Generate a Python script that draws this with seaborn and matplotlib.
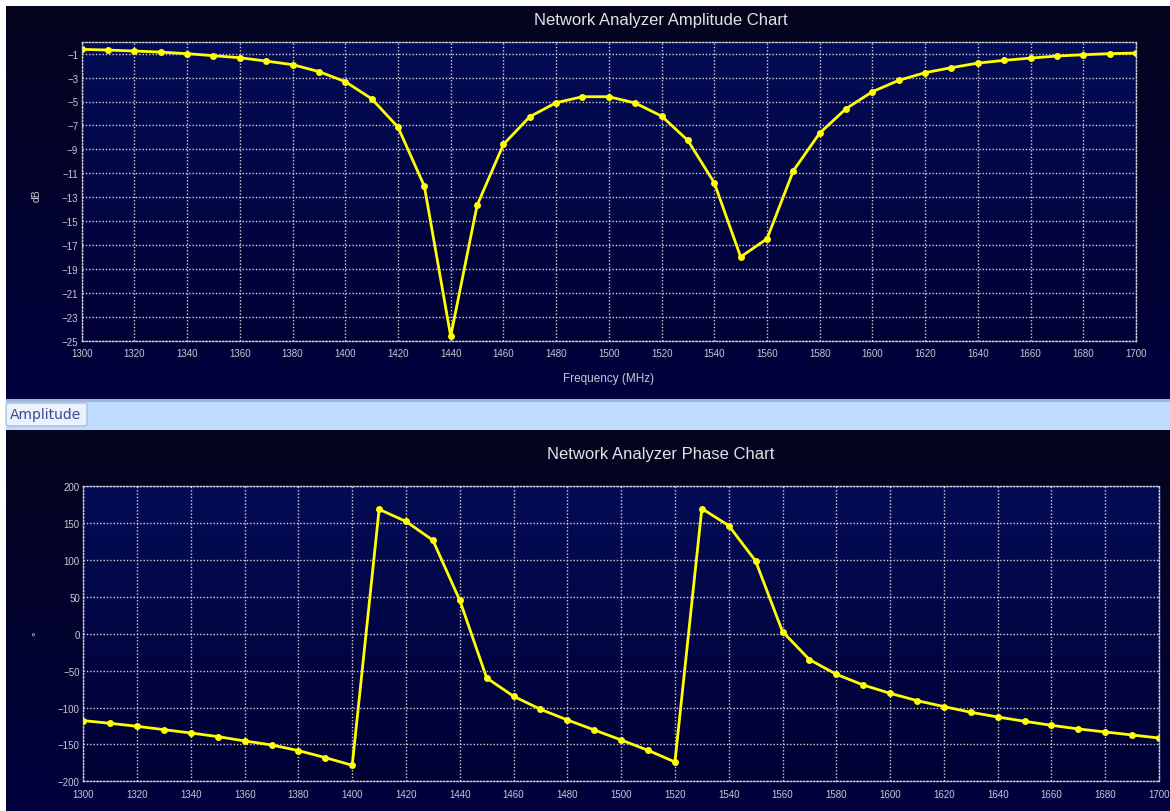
import numpy as np
import pandas as pd
import matplotlib
matplotlib.use("Agg")
import matplotlib.pyplot as plt
from matplotlib.colors import LinearSegmentedColormap
from matplotlib.patches import Rectangle, FancyBboxPatch
import seaborn as sns

# Sweep frequencies (MHz)
freq_mhz = [1300, 1310, 1320, 1330, 1340, 1350, 1360, 1370, 1380, 1390,
            1400, 1410, 1420, 1430, 1440, 1450, 1460, 1470, 1480, 1490,
            1500, 1510, 1520, 1530, 1540, 1550, 1560, 1570, 1580, 1590,
            1600, 1610, 1620, 1630, 1640, 1650, 1660, 1670, 1680, 1690,
            1700]

# Measured amplitude (dB)
amplitude_db = [-0.64, -0.70, -0.78, -0.87, -1.00, -1.17, -1.34, -1.62, -1.92, -2.50,
                -3.34, -4.77, -7.14, -12.08, -24.63, -13.69, -8.59, -6.27, -5.10, -4.60,
                -4.60, -5.13, -6.22, -8.26, -11.80, -17.99, -16.48, -10.79, -7.64, -5.60,
                -4.18, -3.23, -2.59, -2.17, -1.79, -1.56, -1.37, -1.20, -1.09, -1.00,
                -0.95]

# Measured phase (degrees)
phase_deg = [-117.7, -121.4, -125.4, -130.0, -134.5, -139.4, -145.3, -150.7, -158.4, -167.9,
             -178.3, 168.8, 152.3, 126.8, 45.4, -59.9, -84.7, -102.4, -116.8, -130.4,
             -144.0, -158.0, -173.8, 169.8, 146.7, 98.7, 3.0, -35.0, -54.9, -69.4,
             -80.7, -90.6, -98.7, -106.4, -112.8, -118.6, -124.1, -129.0, -133.1, -137.2,
             -141.3]

x_ticks = list(range(1300, 1701, 20))
amp_ticks = list(range(-25, 0, 2))
phase_ticks = list(range(-200, 201, 50))

amp_title = "Network Analyzer Amplitude Chart"
phase_title = "Network Analyzer Phase Chart"
x_label = "Frequency (MHz)"
amp_label = "dB"
phase_label = "°"
tab_label = "Amplitude"

df = pd.DataFrame({"freq": freq_mhz, "amp": amplitude_db, "phase": phase_deg})

sns.set_theme(style="dark")
plt.rcParams["font.family"] = ["Liberation Sans", "DejaVu Sans"]

W, H = 1170, 812
fig = plt.figure(figsize=(W / 100, H / 100), dpi=100, facecolor="white")


def rect(x0, y0, x1, y1):
    """Pixel box (top-left origin) to figure fraction [l, b, w, h]."""
    return [x0 / W, 1 - y1 / H, (x1 - x0) / W, (y1 - y0) / H]


panel_cmap = LinearSegmentedColormap.from_list("panel", ["#05051e", "#00003e"])
plot_cmap = LinearSegmentedColormap.from_list("plotbg", ["#040c56", "#000034"])
grad = np.linspace(0, 1, 256).reshape(-1, 1)


def panel(box):
    bg = fig.add_axes(rect(*box), zorder=0)
    bg.imshow(grad, cmap=panel_cmap, aspect="auto", extent=[0, 1, 1, 0])
    bg.set_axis_off()


panel((6, 7, 1170, 400))
panel((6, 431, 1170, 812))

# Tab strip between the two charts
fig.patches.append(Rectangle((6 / W, 1 - 431 / H), (W - 6) / W, 31 / H,
                             transform=fig.transFigure, facecolor="#bfdcff",
                             edgecolor="none", zorder=1))
fig.patches.append(Rectangle((6 / W, 1 - 402.5 / H), (W - 6) / W, 2.5 / H,
                             transform=fig.transFigure, facecolor="#9fb6d6",
                             edgecolor="none", zorder=1))
fig.patches.append(FancyBboxPatch((6 / W, 1 - 427 / H), 81 / W, 23 / H,
                                  boxstyle="round,pad=0,rounding_size=0.003",
                                  transform=fig.transFigure, facecolor="#e9f2fd",
                                  edgecolor="#a9bfdc", linewidth=1, zorder=2))
fig.text(10 / W, 1 - 415.5 / H, tab_label, ha="left", va="center",
         fontsize=10, color="#3b4a8c", family=["DejaVu Sans"], zorder=3)

grid_color = "#d2d2d8"
dot = (0, (1, 1.4))


def style_axes(ax, yticks, ylim):
    ax.imshow(grad, cmap=plot_cmap, aspect="auto",
              extent=[1300, 1700, ylim[0], ylim[1]], zorder=0)
    ax.set_xlim(1300, 1700)
    ax.set_ylim(*ylim)
    ax.set_xticks(x_ticks)
    ax.set_yticks(yticks)
    ax.set_axisbelow(True)
    ax.grid(True, color=grid_color, linestyle=dot, linewidth=1.0)
    for s in ax.spines.values():
        s.set_visible(True)
        s.set_color(grid_color)
        s.set_linestyle(dot)
        s.set_linewidth(1.0)
    ax.tick_params(length=0, labelsize=7, colors="#c8c8d2")
    ax.tick_params(axis="x", pad=5.5)
    ax.tick_params(axis="y", pad=2.5)
    ax.set_xlabel("")
    ax.set_ylabel("")
    ax.patch.set_alpha(0)


line_kw = dict(color="#ffff00", linewidth=2.0, marker="o", markersize=5,
               markeredgewidth=0, markerfacecolor="#ffff00")

ax1 = fig.add_axes(rect(81.7, 42.7, 1136, 341.7), zorder=2)
sns.lineplot(data=df, x="freq", y="amp", ax=ax1, **line_kw)
style_axes(ax1, amp_ticks, (-25, 0))

ax2 = fig.add_axes(rect(83.3, 487.3, 1159, 782.3), zorder=2)
sns.lineplot(data=df, x="freq", y="phase", ax=ax2, **line_kw)
style_axes(ax2, phase_ticks, (-200, 200))

text_color = "#e2e2e6"
fig.text(661 / W, 1 - 20 / H, amp_title, ha="center", va="center",
         fontsize=12, color=text_color, zorder=3)
fig.text(661 / W, 1 - 455 / H, phase_title, ha="center", va="center",
         fontsize=12, color=text_color, zorder=3)
fig.text(609 / W, 1 - 379 / H, x_label, ha="center", va="center",
         fontsize=8.5, color="#c8c8d2", zorder=3)
fig.text(37 / W, 1 - 196 / H, amp_label, ha="center", va="center",
         rotation=90, fontsize=7.5, color="#c8c8d2", zorder=3)
fig.text(37 / W, 1 - 634 / H, phase_label, ha="center", va="center",
         rotation=90, fontsize=8, color="#c8c8d2", zorder=3)

fig.savefig("out.png", dpi=100, facecolor="white")
